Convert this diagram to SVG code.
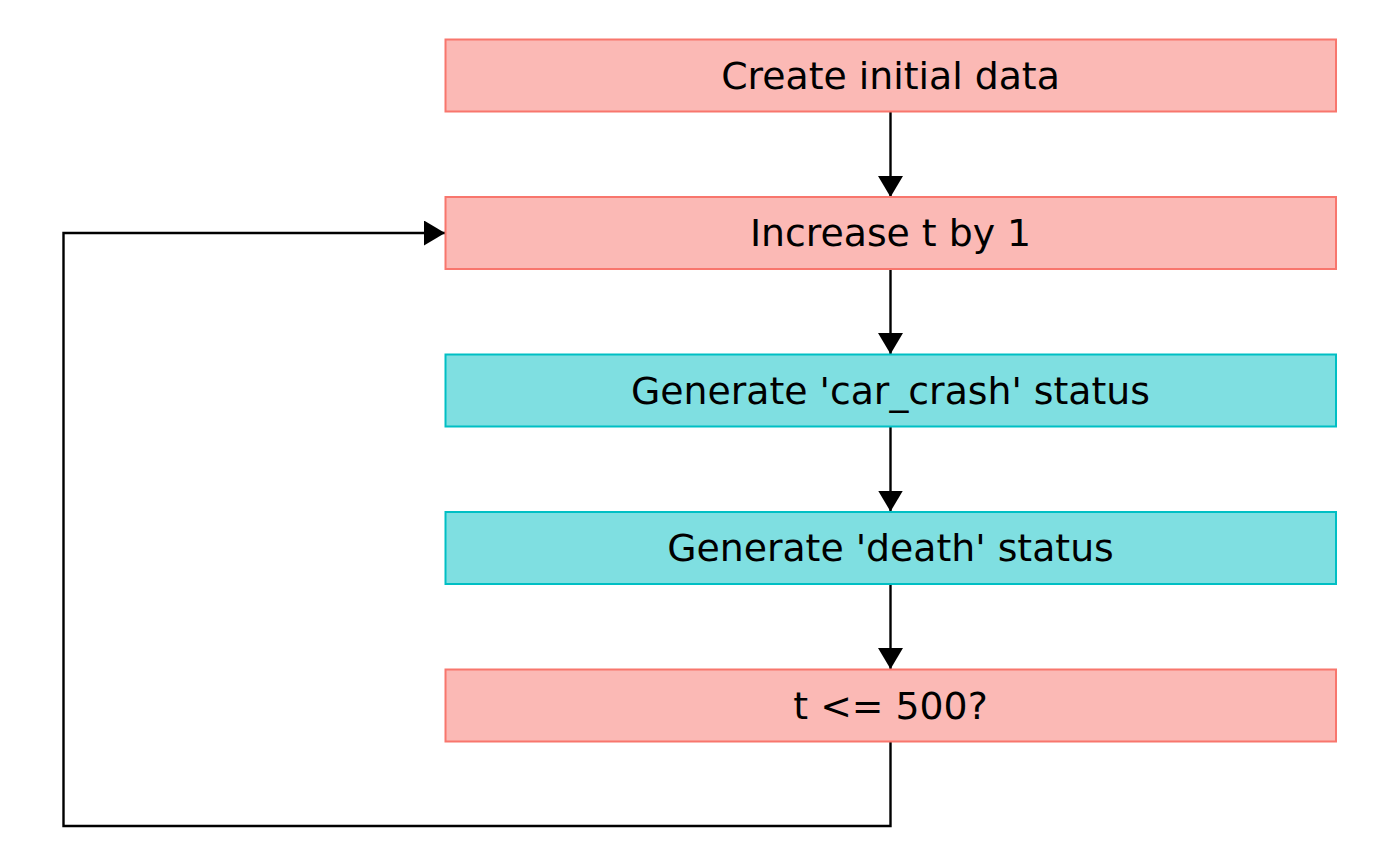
<svg xmlns="http://www.w3.org/2000/svg" width="1400" height="866" viewBox="0 0 1400 866">
  <style>
    .box { stroke-width: 2; }
    .red { fill: #FBB9B5; stroke: #F8766D; }
    .teal { fill: #7FDFE1; stroke: #00BFC4; }
    .label { font-family: "DejaVu Sans", sans-serif; font-size: 37.8px; fill: #000; text-anchor: middle; }
    .edge { fill: none; stroke: #000; stroke-width: 2.4; }
  </style>
  <defs>
    <marker id="arrow" markerUnits="userSpaceOnUse" markerWidth="22" markerHeight="26" refX="21" refY="12.5" orient="auto">
      <path d="M0,0 L21,12.5 L0,25 Z" fill="#000"/>
    </marker>
  </defs>
  <rect width="1400" height="866" fill="#fff"/>

  <g id="connectors">
    <path class="edge" d="M890.5,111 V197" marker-end="url(#arrow)"/>
    <path class="edge" d="M890.5,268.5 V354" marker-end="url(#arrow)"/>
    <path class="edge" d="M890.5,426 V511.5" marker-end="url(#arrow)"/>
    <path class="edge" d="M890.5,583.5 V669" marker-end="url(#arrow)"/>
    <path class="edge" d="M890.5,741 V826 H63.5 V233 H445" marker-end="url(#arrow)"/>
  </g>

  <g id="node-create">
    <rect class="box red" x="445.5" y="39.5" width="890.5" height="72"/>
    <text class="label" x="890.5" y="88.5">Create initial data</text>
  </g>
  <g id="node-increase">
    <rect class="box red" x="445.5" y="197" width="890.5" height="72"/>
    <text class="label" x="890.5" y="246">Increase t by 1</text>
  </g>
  <g id="node-car-crash">
    <rect class="box teal" x="445.5" y="354.5" width="890.5" height="72"/>
    <text class="label" x="890.5" y="403.5">Generate 'car_crash' status</text>
  </g>
  <g id="node-death">
    <rect class="box teal" x="445.5" y="512" width="890.5" height="72"/>
    <text class="label" x="890.5" y="561">Generate 'death' status</text>
  </g>
  <g id="node-check">
    <rect class="box red" x="445.5" y="669.5" width="890.5" height="72"/>
    <text class="label" x="890.5" y="718.5">t &lt;= 500?</text>
  </g>
</svg>
